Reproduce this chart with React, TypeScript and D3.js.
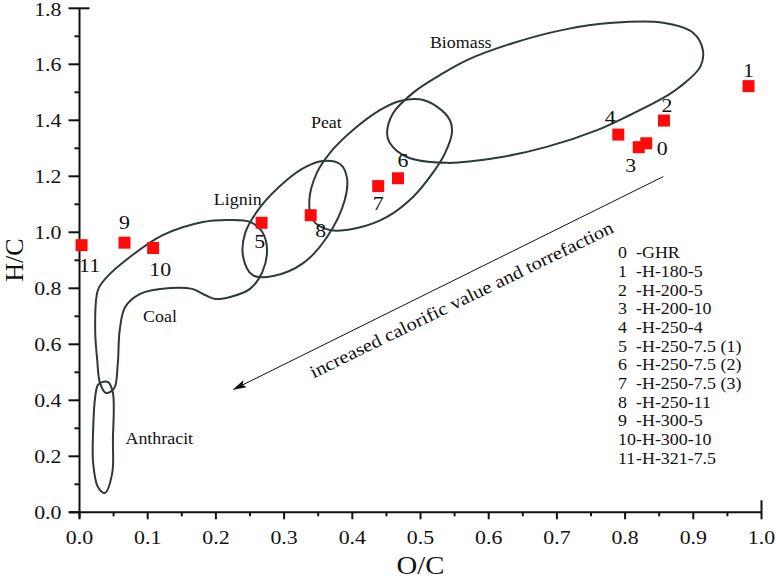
import React from "react";
import * as d3 from "d3";

// ---- data ----
const sampleIds = [0, 1, 2, 3, 4, 5, 6, 7, 8, 9, 10, 11];
const sampleNames = [
  "GHR", "H-180-5", "H-200-5", "H-200-10", "H-250-4", "H-250-7.5 (1)",
  "H-250-7.5 (2)", "H-250-7.5 (3)", "H-250-11", "H-300-5", "H-300-10", "H-321-7.5",
];
const ocValues = [0.831, 0.981, 0.857, 0.82, 0.79, 0.267, 0.467, 0.438, 0.339, 0.066, 0.108, 0.003];
const hcValues = [1.318, 1.522, 1.399, 1.304, 1.349, 1.034, 1.193, 1.165, 1.061, 0.963, 0.944, 0.954];

const xTicks = [0, 0.1, 0.2, 0.3, 0.4, 0.5, 0.6, 0.7, 0.8, 0.9, 1.0];
const xMinorTicks = [0.05, 0.15, 0.25, 0.35, 0.45, 0.55, 0.65, 0.75, 0.85, 0.95];
const yTicks = [0, 0.2, 0.4, 0.6, 0.8, 1.0, 1.2, 1.4, 1.6, 1.8];
const yMinorTicks = [0.1, 0.3, 0.5, 0.7, 0.9, 1.1, 1.3, 1.5, 1.7];

// region outlines in [O/C, H/C]
const biomassOutline: [number, number][] = [
  [0.451, 1.355], [0.46, 1.426], [0.489, 1.498], [0.529, 1.562], [0.569, 1.616], [0.636, 1.676],
  [0.709, 1.723], [0.782, 1.748], [0.856, 1.748], [0.9, 1.712], [0.914, 1.651], [0.91, 1.59],
  [0.88, 1.519], [0.856, 1.48], [0.807, 1.419], [0.759, 1.365], [0.685, 1.305], [0.612, 1.266],
  [0.539, 1.248], [0.48, 1.269], [0.455, 1.319],
];
const peatOutline: [number, number][] = [
  [0.499, 1.475], [0.524, 1.449], [0.543, 1.401], [0.546, 1.354], [0.536, 1.283], [0.518, 1.212],
  [0.489, 1.126], [0.451, 1.055], [0.407, 1.015], [0.367, 1.008], [0.342, 1.044], [0.337, 1.115],
  [0.348, 1.212], [0.367, 1.283], [0.401, 1.365], [0.441, 1.437], [0.47, 1.469],
];
const ligninOutline: [number, number][] = [
  [0.357, 1.255], [0.382, 1.244], [0.392, 1.197], [0.389, 1.115], [0.363, 0.983], [0.328, 0.89],
  [0.284, 0.844], [0.254, 0.847], [0.24, 0.912], [0.243, 0.998], [0.265, 1.09], [0.304, 1.187],
  [0.331, 1.233],
];
const coalOutline: [number, number][] = [
  [0.027, 0.794], [0.04, 0.84], [0.074, 0.912], [0.122, 0.99], [0.181, 1.037], [0.221, 1.044],
  [0.25, 1.037], [0.268, 1.001], [0.275, 0.937], [0.268, 0.858], [0.25, 0.798], [0.221, 0.769],
  [0.199, 0.762], [0.184, 0.776], [0.165, 0.798], [0.133, 0.801], [0.089, 0.78], [0.067, 0.733],
  [0.059, 0.651], [0.056, 0.526], [0.051, 0.444], [0.039, 0.426], [0.03, 0.462], [0.026, 0.544],
  [0.023, 0.651],
];
const anthracitOutline: [number, number][] = [
  [0.033, 0.465], [0.042, 0.465], [0.049, 0.426], [0.049, 0.258], [0.048, 0.14], [0.037, 0.069],
  [0.027, 0.09], [0.02, 0.176], [0.02, 0.294], [0.023, 0.412], [0.027, 0.455],
];
const regionNames = ["Biomass", "Peat", "Lignin", "Coal", "Anthracit"];
const regionOutlines = [biomassOutline, peatOutline, ligninOutline, coalOutline, anthracitOutline];
const regionLabelAt: [number, number][] = [
  [0.559, 1.676], [0.362, 1.392], [0.232, 1.115], [0.118, 0.697], [0.117, 0.261],
];

const arrowFrom: [number, number] = [0.856, 1.199];
const arrowTo: [number, number] = [0.226, 0.439];
const arrowText = "increased calorific value and torrefaction";
const arrowTextAt: [number, number] = [0.564, 0.74];

// label offsets (px) for point numbers
const labelOffsets: [number, number][] = [
  [16, 5], [0, -16], [3, -15], [-8, 18], [-8, -17], [-2, 19],
  [5, -18], [0, 17], [10, 15], [0, -20], [7, 22], [8, 20],
];

const W = 776;
const H = 585;
const FONT = "'Liberation Serif', 'Times New Roman', serif";
const SX = 1.15; // horizontal stretch of the reference's lettering

function T(props: { x: number; y: number; size: number; anchor?: string; children: React.ReactNode; sx?: number }) {
  const sx = props.sx ?? SX;
  return (
    <text transform={`translate(${props.x},${props.y}) scale(${sx},1)`} fontSize={props.size}
      textAnchor={props.anchor ?? "middle"} dominantBaseline="central" fill="#111">
      {props.children}
    </text>
  );
}

export default function App() {
  const x = d3.scaleLinear().domain([0, 1]).range([79.5, 761.5]);
  const y = d3.scaleLinear().domain([0, 1.8]).range([512.3, 8.3]);
  const outlinePath = d3
    .line<[number, number]>()
    .x((d) => x(d[0]))
    .y((d) => y(d[1]))
    .curve(d3.curveCatmullRomClosed.alpha(0.5));

  const x0 = x(0);
  const y0 = y(0);
  const ax1 = x(arrowFrom[0]), ay1 = y(arrowFrom[1]);
  const ax2 = x(arrowTo[0]), ay2 = y(arrowTo[1]);
  const angle = (Math.atan2(ay1 - ay2, ax1 - ax2) * 180) / Math.PI;
  const tx = x(arrowTextAt[0]), ty = y(arrowTextAt[1]);

  return (
    <svg width={W} height={H} style={{ position: "absolute", left: 0, top: 0, background: "#fff" }} fontFamily={FONT}>
      <defs>
        <marker id="arrowHead" viewBox="0 0 14 8" refX="13" refY="4" markerWidth="14" markerHeight="8" orient="auto" markerUnits="userSpaceOnUse">
          <path d="M0,0 L14,4 L0,8 L3,4 Z" fill="#111" />
        </marker>
      </defs>

      {/* regions */}
      {regionOutlines.map((o, i) => (
        <path key={"r" + i} d={outlinePath(o) || ""} fill="none" stroke="#2e3939" strokeWidth={2} />
      ))}
      {regionNames.map((n, i) => (
        <T key={"rn" + i} x={x(regionLabelAt[i][0])} y={y(regionLabelAt[i][1])} size={16} sx={1.12}>{n}</T>
      ))}

      {/* arrow */}
      <line x1={ax1} y1={ay1} x2={ax2} y2={ay2} stroke="#111" strokeWidth={1} markerEnd="url(#arrowHead)" />
      <text x={tx} y={ty} fontSize={18} textAnchor="middle"
        textLength={335} lengthAdjust="spacingAndGlyphs"
        transform={`rotate(${angle + 0.4}, ${tx}, ${ty})`} fill="#111">
        {arrowText}
      </text>

      {/* axes */}
      <line x1={x0} y1={y(1.8)} x2={x0} y2={y0 + 6} stroke="#111" strokeWidth={2} />
      <line x1={x0 - 10} y1={y0} x2={x(1)} y2={y0} stroke="#111" strokeWidth={2} />
      {yTicks.map((t) => (
        <g key={"yt" + t}>
          <line x1={x0 - 11} x2={t === 1.8 ? x0 + 10 : x0} y1={y(t)} y2={y(t)} stroke="#111" strokeWidth={2} />
          <T x={x0 - 18} y={Math.max(y(t), 10)} size={19} anchor="end">{t.toFixed(1)}</T>
        </g>
      ))}
      {yMinorTicks.map((t) => (
        <line key={"ym" + t} x1={x0 - 5} x2={x0} y1={y(t)} y2={y(t)} stroke="#111" strokeWidth={2} />
      ))}
      {xTicks.map((t) => (
        <g key={"xt" + t}>
          <line x1={x(t)} x2={x(t)} y1={t === 1 ? y0 - 12 : y0} y2={y0 + 7} stroke="#111" strokeWidth={2} />
          <T x={x(t)} y={y0 + 25} size={19}>{t.toFixed(1)}</T>
        </g>
      ))}
      {xMinorTicks.map((t) => (
        <line key={"xm" + t} x1={x(t)} x2={x(t)} y1={y0} y2={y0 + 4} stroke="#111" strokeWidth={2} />
      ))}
      <T x={(x0 + x(1)) / 2} y={566} size={25}>O/C</T>
      <text transform={`translate(23, 260) rotate(-90)`} fontSize={26} textAnchor="middle" fill="#111">H/C</text>

      {/* points */}
      {sampleIds.map((id, i) => (
        <g key={"p" + id}>
          <rect x={x(ocValues[i]) - 6} y={y(hcValues[i]) - 6} width={12} height={12} fill="#ff0a0a" />
          <T x={x(ocValues[i]) + labelOffsets[i][0]} y={y(hcValues[i]) + labelOffsets[i][1]} size={19}>{id}</T>
        </g>
      ))}

      {/* legend */}
      {sampleIds.map((id, i) => (
        <g key={"l" + id}>
          <T x={618} y={253 + i * 18.7} size={16} anchor="start" sx={1.12}>{id}</T>
          <T x={636} y={253 + i * 18.7} size={16} anchor="start" sx={1.12}>{"-" + sampleNames[i]}</T>
        </g>
      ))}
    </svg>
  );
}
